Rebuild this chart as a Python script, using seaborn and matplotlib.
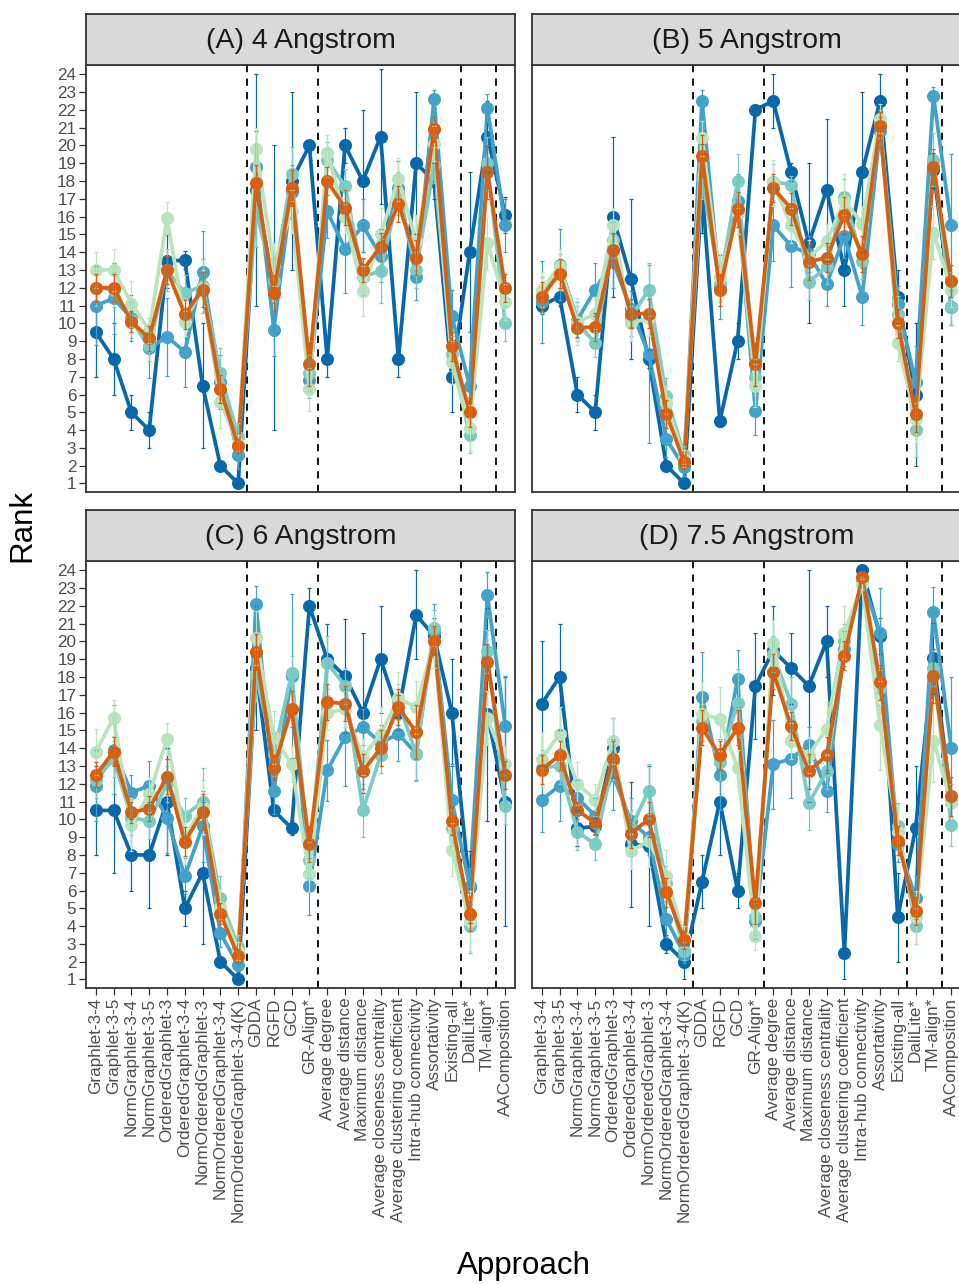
import numpy as np
import pandas as pd
import matplotlib
matplotlib.use("Agg")
import matplotlib.pyplot as plt
import seaborn as sns

sns.set_theme(style="white")
plt.rcParams["font.family"] = ["Liberation Sans", "DejaVu Sans"]

# ---------------------------------------------------------------- data
APPROACHES = [
    "Graphlet-3-4", "Graphlet-3-5", "NormGraphlet-3-4", "NormGraphlet-3-5",
    "OrderedGraphlet-3", "OrderedGraphlet-3-4", "NormOrderedGraphlet-3",
    "NormOrderedGraphlet-3-4", "NormOrderedGraphlet-3-4(K)", "GDDA", "RGFD",
    "GCD", "GR-Align*", "Average degree", "Average distance",
    "Maximum distance", "Average closeness centrality",
    "Average clustering coefficient", "Intra-hub connectivity",
    "Assortativity", "Existing-all", "DaliLite*", "TM-align*", "AAComposition",
]
PANEL_TITLES = ["(A) 4 Angstrom", "(B) 5 Angstrom", "(C) 6 Angstrom", "(D) 7.5 Angstrom"]
SERIES = ["Set 1", "Set 2", "Set 3", "Set 4", "Mean"]
GROUP_BREAKS = [9.5, 13.5, 21.5, 23.5]
RANK_TICKS = list(range(1, 25))

# (A) 4 Angstrom
A_SET1 = [9.5, 8.0, 5.0, 4.0, 13.5, 13.55, 6.5, 2.0, 1.0, 17.5, 12.0, 18.0, 20.0, 8.0, 20.0, 18.0, 20.5, 8.0, 19.0, 18.0, 7.0, 14.0, 20.5, 16.1]
A_SET2 = [11.0, 11.4, 10.3, 8.6, 9.25, 8.4, 12.9, 6.7, 2.6, 18.8, 9.65, 17.4, 6.8, 16.3, 14.2, 15.5, 13.8, 17.6, 12.6, 22.6, 10.4, 6.5, 22.1, 15.5]
A_SET3 = [12.0, 11.9, 10.2, 8.7, 13.0, 11.7, 12.1, 7.2, 3.6, 16.3, 12.4, 18.4, 7.2, 19.2, 17.7, 12.6, 12.95, 17.3, 13.0, 18.9, 8.3, 3.7, 19.0, 10.0]
A_SET4 = [13.0, 13.0, 11.1, 9.6, 15.9, 10.1, 12.0, 5.6, 3.2, 19.8, 13.3, 16.3, 6.3, 19.6, 16.0, 11.8, 15.0, 18.1, 14.6, 20.1, 7.8, 4.1, 14.5, 11.2]
A_MEAN = [12.0, 12.0, 10.1, 9.15, 13.0, 10.5, 11.9, 6.3, 3.1, 17.9, 11.7, 17.6, 7.7, 18.0, 16.5, 13.0, 14.3, 16.7, 13.7, 20.9, 8.7, 5.0, 18.5, 12.0]
A_SET1_ERR = [2.5, 2.0, 1.0, 1.0, 1.5, 0.5, 3.5, 0.0, 0.0, 6.5, 8.0, 5.0, 0.0, 1.0, 1.0, 4.0, 3.8, 1.0, 4.0, 1.0, 2.0, 4.5, 2.0, 1.0]
A_SET2_ERR = [2.2, 2.0, 1.3, 1.7, 2.2, 2.0, 2.3, 1.5, 0.8, 2.0, 1.5, 1.5, 1.0, 1.5, 2.5, 1.5, 1.5, 1.5, 1.3, 0.5, 1.5, 3.0, 0.8, 1.5]
A_SET3_ERR = [1.0, 1.0, 1.0, 0.8, 1.2, 1.0, 1.5, 1.4, 0.8, 2.0, 1.2, 1.5, 1.0, 1.0, 1.0, 1.0, 1.8, 1.2, 1.0, 1.0, 1.0, 1.0, 1.5, 1.0]
A_SET4_ERR = [1.0, 1.2, 1.3, 0.7, 0.9, 0.8, 1.0, 1.5, 0.5, 1.2, 1.2, 1.2, 1.2, 1.0, 1.0, 1.4, 1.5, 1.2, 1.5, 1.0, 1.2, 1.3, 1.5, 1.0]
A_MEAN_ERR = [0.8, 0.8, 0.6, 0.7, 0.8, 0.8, 1.0, 0.8, 0.4, 1.0, 1.0, 1.0, 1.2, 0.8, 1.0, 0.7, 0.8, 1.0, 1.0, 0.7, 0.8, 0.8, 1.5, 0.8]

# (B) 5 Angstrom
B_SET1 = [11.0, 11.5, 6.0, 5.0, 16.0, 12.5, 8.0, 2.0, 1.0, 17.6, 4.5, 9.0, 22.0, 22.5, 18.5, 14.5, 17.5, 13.0, 18.5, 22.5, 11.5, 6.0, 18.6, 10.9]
B_SET2 = [11.2, 13.3, 10.2, 11.9, 13.5, 10.8, 8.3, 3.5, 1.9, 22.5, 12.05, 16.9, 5.1, 15.5, 14.35, 13.9, 12.2, 14.9, 11.5, 20.8, 11.1, 6.7, 22.8, 15.5]
B_SET3 = [11.6, 12.9, 10.0, 8.9, 14.7, 10.3, 11.9, 5.9, 2.6, 18.2, 12.2, 18.0, 7.0, 17.95, 17.8, 12.3, 13.2, 17.1, 13.5, 21.2, 10.55, 4.0, 19.2, 10.9]
B_SET4 = [11.9, 13.2, 10.1, 10.5, 15.5, 10.0, 10.3, 5.5, 2.4, 20.4, 12.6, 16.2, 6.5, 17.9, 15.5, 13.7, 14.6, 16.9, 15.6, 21.5, 8.9, 4.6, 15.1, 11.9]
B_MEAN = [11.5, 12.8, 9.75, 9.8, 14.1, 10.55, 10.55, 4.9, 2.2, 19.4, 11.9, 16.4, 7.7, 17.6, 16.45, 13.45, 13.7, 16.1, 13.9, 21.1, 10.0, 4.9, 18.8, 12.4]
B_SET1_ERR = [0.5, 0.5, 1.0, 1.0, 4.5, 4.5, 0.5, 0.0, 0.0, 2.5, 0.3, 1.0, 0.0, 1.5, 0.5, 4.5, 4.0, 2.0, 4.5, 1.5, 1.5, 4.0, 1.0, 1.0]
B_SET2_ERR = [2.3, 2.0, 1.0, 1.5, 1.5, 1.0, 5.0, 1.0, 0.5, 0.6, 1.8, 1.5, 1.4, 2.0, 2.3, 1.0, 1.2, 1.2, 1.6, 0.8, 1.0, 2.0, 0.5, 4.0]
B_SET3_ERR = [1.0, 1.0, 1.0, 0.8, 1.0, 1.0, 1.5, 1.0, 0.5, 1.2, 1.0, 1.5, 1.0, 1.0, 0.5, 1.0, 1.0, 1.0, 1.0, 0.8, 1.0, 1.5, 1.5, 1.0]
B_SET4_ERR = [1.0, 1.0, 1.3, 1.0, 1.0, 1.0, 1.0, 1.0, 0.5, 1.0, 1.3, 1.2, 1.2, 1.3, 1.0, 1.0, 1.0, 1.5, 1.0, 0.8, 1.0, 1.3, 1.5, 1.0]
B_MEAN_ERR = [0.8, 0.8, 0.5, 0.8, 1.0, 0.8, 0.8, 0.8, 0.4, 1.2, 0.9, 1.0, 1.2, 0.8, 0.9, 1.0, 0.8, 1.0, 1.0, 0.8, 0.8, 1.0, 1.0, 0.9]

# (C) 6 Angstrom
C_SET1 = [10.5, 10.5, 8.0, 8.0, 11.0, 5.0, 7.0, 2.0, 1.0, 18.5, 10.5, 9.5, 22.0, 19.0, 18.05, 16.0, 19.0, 16.0, 21.5, 20.3, 16.0, 6.2, 15.9, 11.0]
C_SET2 = [11.9, 13.9, 11.5, 11.9, 10.1, 6.8, 9.6, 3.6, 1.8, 22.1, 11.6, 18.05, 6.25, 12.75, 14.6, 15.2, 14.3, 14.8, 13.7, 20.6, 11.1, 6.25, 22.6, 15.25]
C_SET3 = [12.2, 13.4, 10.1, 9.9, 12.0, 10.2, 11.0, 5.6, 2.8, 18.1, 13.65, 18.2, 7.7, 18.8, 17.5, 10.5, 13.6, 16.6, 13.65, 20.75, 9.5, 4.0, 19.45, 10.75]
C_SET4 = [13.8, 15.7, 9.7, 11.4, 14.5, 9.0, 10.7, 5.1, 2.6, 20.2, 14.6, 13.1, 6.9, 16.0, 16.2, 13.5, 14.8, 16.8, 16.3, 20.0, 8.3, 4.3, 15.7, 13.1]
C_MEAN = [12.5, 13.8, 10.4, 10.6, 12.4, 8.75, 10.4, 4.7, 2.3, 19.4, 12.9, 16.2, 8.6, 16.6, 16.5, 12.7, 14.0, 16.3, 14.9, 20.05, 9.9, 4.7, 18.85, 12.5]
C_SET1_ERR = [2.5, 3.5, 2.0, 3.0, 3.0, 1.0, 4.0, 0.0, 0.0, 3.5, 0.3, 0.4, 1.0, 2.0, 3.2, 4.5, 3.0, 1.0, 2.5, 1.0, 3.0, 2.0, 6.0, 7.0]
C_SET2_ERR = [2.0, 2.5, 1.0, 1.4, 2.0, 1.0, 2.0, 0.8, 0.3, 1.0, 1.3, 4.6, 1.6, 1.7, 2.7, 1.0, 1.0, 1.5, 1.5, 1.5, 2.0, 1.0, 1.3, 2.8]
C_SET3_ERR = [1.0, 1.0, 1.0, 1.0, 1.0, 1.0, 1.9, 1.2, 0.7, 1.5, 1.2, 1.0, 1.0, 1.5, 1.0, 1.5, 1.0, 1.0, 1.5, 1.0, 1.0, 1.5, 1.2, 1.0]
C_SET4_ERR = [1.3, 1.0, 1.5, 1.0, 0.9, 1.5, 1.5, 1.0, 0.5, 1.5, 1.5, 1.0, 1.0, 1.0, 1.0, 1.0, 1.5, 1.5, 1.5, 1.5, 1.5, 1.7, 1.5, 1.0]
C_MEAN_ERR = [0.7, 0.8, 0.6, 0.7, 1.0, 0.8, 1.0, 0.6, 0.4, 1.0, 0.7, 1.0, 1.0, 1.0, 1.0, 1.0, 1.0, 1.0, 1.5, 0.8, 0.8, 1.0, 1.0, 0.8]

# (D) 7.5 Angstrom
D_SET1 = [16.5, 18.0, 9.5, 9.6, 14.0, 8.6, 8.5, 3.0, 2.0, 6.5, 11.0, 6.0, 17.5, 19.5, 18.5, 17.5, 20.0, 2.5, 24.0, 20.3, 4.5, 9.5, 19.05, 11.0]
D_SET2 = [11.1, 11.9, 11.2, 10.2, 12.5, 9.9, 9.0, 4.4, 2.4, 16.9, 12.5, 17.9, 4.3, 13.1, 13.4, 14.2, 11.6, 19.6, 23.4, 20.5, 8.6, 5.6, 21.65, 14.0]
D_SET3 = [12.9, 13.0, 9.3, 8.6, 13.2, 9.5, 11.6, 6.4, 2.6, 15.5, 13.2, 16.55, 4.5, 19.3, 16.5, 10.9, 12.7, 20.0, 23.3, 17.4, 9.6, 4.0, 18.5, 9.7]
D_SET4 = [13.4, 14.8, 12.0, 11.1, 14.4, 8.2, 8.8, 6.8, 3.4, 15.9, 15.65, 12.9, 3.45, 19.9, 14.4, 13.6, 15.1, 20.5, 23.2, 15.3, 9.3, 4.5, 14.4, 11.0]
D_MEAN = [12.8, 13.6, 10.5, 9.8, 13.4, 9.2, 10.0, 5.9, 3.2, 15.15, 13.6, 15.15, 5.3, 18.3, 15.25, 12.7, 13.6, 19.2, 23.6, 17.7, 8.8, 4.85, 18.05, 11.3]
D_SET1_ERR = [3.5, 3.0, 1.0, 0.5, 1.7, 3.5, 4.5, 0.5, 1.0, 1.5, 3.0, 1.0, 3.0, 2.5, 2.0, 6.5, 2.0, 1.5, 0.3, 1.0, 2.5, 3.5, 2.0, 1.0]
D_SET2_ERR = [1.8, 2.0, 1.0, 1.0, 2.0, 1.3, 1.0, 1.0, 0.5, 2.5, 2.0, 1.6, 1.0, 2.5, 2.2, 1.0, 1.2, 1.0, 0.3, 2.5, 1.0, 1.2, 1.4, 4.0]
D_SET3_ERR = [1.0, 1.0, 1.0, 0.9, 1.0, 1.0, 1.5, 1.0, 0.5, 1.0, 1.0, 1.9, 1.0, 1.0, 1.5, 1.5, 1.0, 1.0, 0.3, 1.0, 1.3, 1.0, 1.0, 1.2]
D_SET4_ERR = [1.5, 1.5, 1.2, 0.9, 1.3, 1.0, 1.5, 1.5, 0.6, 1.8, 1.8, 1.0, 0.8, 1.3, 1.0, 1.0, 1.5, 1.5, 0.3, 2.5, 1.5, 1.5, 2.3, 1.0]
D_MEAN_ERR = [0.8, 0.8, 0.5, 0.6, 1.0, 0.8, 1.0, 0.8, 0.5, 1.0, 0.8, 1.0, 1.2, 1.0, 0.8, 1.0, 1.0, 0.8, 0.3, 1.0, 0.8, 0.8, 1.5, 1.1]

PANEL_VALUES = {
    PANEL_TITLES[0]: ([A_SET1, A_SET2, A_SET3, A_SET4, A_MEAN],
                      [A_SET1_ERR, A_SET2_ERR, A_SET3_ERR, A_SET4_ERR, A_MEAN_ERR]),
    PANEL_TITLES[1]: ([B_SET1, B_SET2, B_SET3, B_SET4, B_MEAN],
                      [B_SET1_ERR, B_SET2_ERR, B_SET3_ERR, B_SET4_ERR, B_MEAN_ERR]),
    PANEL_TITLES[2]: ([C_SET1, C_SET2, C_SET3, C_SET4, C_MEAN],
                      [C_SET1_ERR, C_SET2_ERR, C_SET3_ERR, C_SET4_ERR, C_MEAN_ERR]),
    PANEL_TITLES[3]: ([D_SET1, D_SET2, D_SET3, D_SET4, D_MEAN],
                      [D_SET1_ERR, D_SET2_ERR, D_SET3_ERR, D_SET4_ERR, D_MEAN_ERR]),
}

COLORS = {"Set 1": "#0868ac", "Set 2": "#43a2ca", "Set 3": "#7bccc4",
          "Set 4": "#bae4bc", "Mean": "#d95f0e"}

rows = []
for title, (vals, errs) in PANEL_VALUES.items():
    for name, v, e in zip(SERIES, vals, errs):
        for i, (rv, ev) in enumerate(zip(v, e)):
            rows.append({"panel": title, "series": name, "pos": i + 1,
                         "approach": APPROACHES[i], "rank": rv, "err": ev})
df = pd.DataFrame(rows)

# ---------------------------------------------------------------- layout
W, H = 959, 1284
fig = plt.figure(figsize=(W / 100, H / 100), dpi=100)
fig.patch.set_facecolor("white")

PANEL_W = 429
PANEL_H = 427
STRIP_H = 51
panel_boxes = {
    PANEL_TITLES[0]: (86, 65),
    PANEL_TITLES[1]: (532, 65),
    PANEL_TITLES[2]: (86, 561),
    PANEL_TITLES[3]: (532, 561),
}
GRID = "#333333"
TEXT = "#4D4D4D"

for k, title in enumerate(PANEL_TITLES):
    x0, y0 = panel_boxes[title]
    ax = fig.add_axes([x0 / W, 1 - (y0 + PANEL_H) / H, PANEL_W / W, PANEL_H / H])
    sub = df[df["panel"] == title]

    for xb in GROUP_BREAKS:
        ax.axvline(xb, color="black", lw=1.3, ls=(0, (4, 3.5)), zorder=1)

    sns.lineplot(data=sub, x="pos", y="rank", hue="series", hue_order=SERIES,
                 palette=COLORS, marker="o", markersize=9.4, markeredgewidth=0,
                 linewidth=2.7, errorbar=None, legend=False, ax=ax, zorder=2)

    for name in SERIES:
        s = sub[sub["series"] == name]
        ax.errorbar(s["pos"], s["rank"], yerr=s["err"], fmt="none",
                    ecolor=COLORS[name], elinewidth=0.9, capsize=1.6,
                    capthick=0.9, zorder=3)

    ax.set_xlim(0.45, 24.55)
    ax.set_ylim(0.52, 24.52)
    ax.set_yticks(RANK_TICKS)
    ax.set_yticklabels([str(t) for t in RANK_TICKS], fontsize=12.3, color=TEXT)
    ax.set_xticks(range(1, len(APPROACHES) + 1))
    ax.set_xlabel("")
    ax.set_ylabel("")
    ax.set_facecolor("white")
    for sp in ax.spines.values():
        sp.set_color(GRID)
        sp.set_linewidth(1.3)

    bottom_row = k >= 2
    left_col = k % 2 == 0
    ax.tick_params(axis="y", left=left_col, labelleft=left_col, length=5,
                   width=0.9, color=GRID, pad=2)
    if bottom_row:
        ax.set_xticklabels(APPROACHES, rotation=90, fontsize=12.3, color=TEXT,
                           ha="center", va="top")
        ax.tick_params(axis="x", bottom=True, length=5, width=0.9, color=GRID, pad=2)
    else:
        ax.set_xticklabels([])
        ax.tick_params(axis="x", bottom=False, labelbottom=False)

    # facet strip
    sax = fig.add_axes([x0 / W, 1 - y0 / H, PANEL_W / W, STRIP_H / H])
    sax.set_facecolor("#D9D9D9")
    sax.set_xticks([])
    sax.set_yticks([])
    for sp in sax.spines.values():
        sp.set_color(GRID)
        sp.set_linewidth(1.3)
    sax.text(0.5, 0.47, title, ha="center", va="center", fontsize=20.5,
             color="#1A1A1A", transform=sax.transAxes)

fig.text(22 / W, 1 - 526 / H, "Rank", rotation=90, ha="center", va="center",
         fontsize=22.5, color="black")
fig.text(524 / W, 1 - 1266 / H, "Approach", ha="center", va="center",
         fontsize=22.5, color="black")

fig.savefig("out.png", dpi=100, facecolor="white")
